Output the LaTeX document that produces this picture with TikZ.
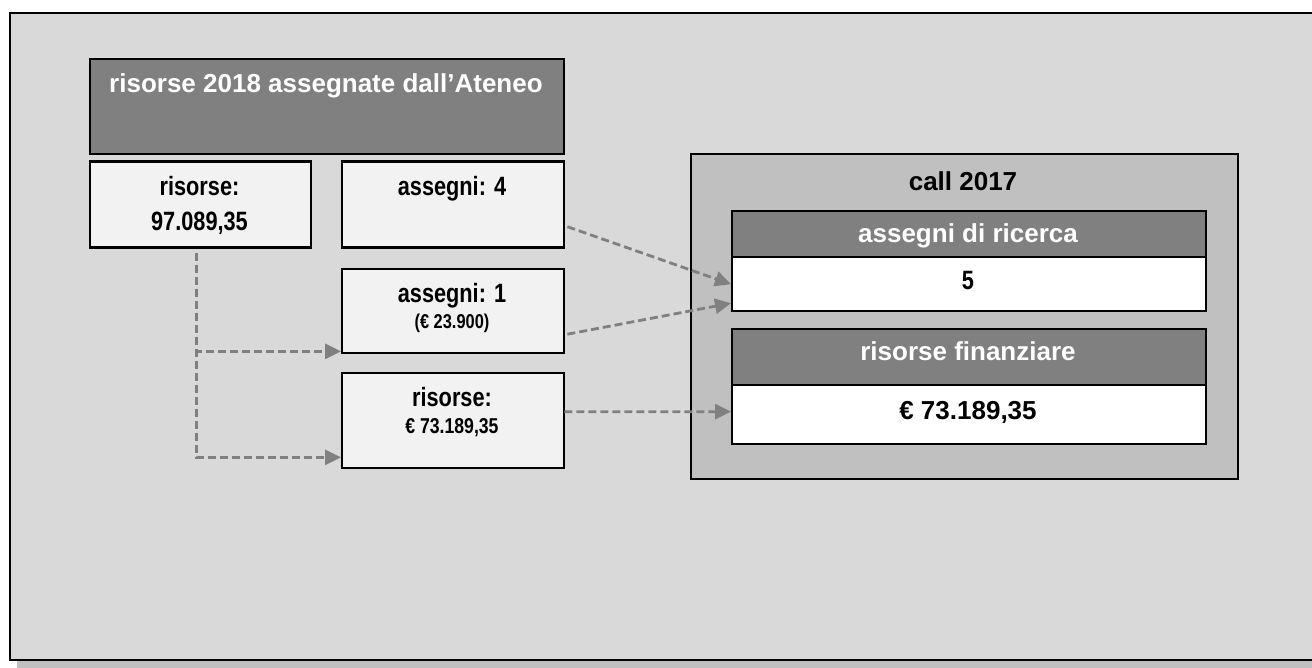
\documentclass[tikz,border=0pt]{standalone}
\usepackage{fontspec}
\setmainfont{Liberation Sans}
\newfontfamily\narrowfont[FakeStretch=0.82]{Liberation Sans}
\usetikzlibrary{arrows.meta}
\definecolor{bgc}{HTML}{D9D9D9}
\definecolor{darkc}{HTML}{808080}
\definecolor{lightc}{HTML}{F2F2F2}
\definecolor{midc}{HTML}{C0C0C0}
\tikzset{
  rbox/.style={draw=black, line width=2.4pt, inner sep=0pt, anchor=north west},
  lbox/.style={rbox, fill=lightc},
  dbox/.style={rbox, fill=darkc},
  wbox/.style={rbox, fill=white},
  ntxt/.style={anchor=base, inner sep=0pt, font=\narrowfont\bfseries\fontsize{26.5}{30}\selectfont},
  ntxts/.style={anchor=base, inner sep=0pt, font=\narrowfont\bfseries\fontsize{20}{24}\selectfont},
  htxt/.style={anchor=base, inner sep=0pt, text=white, font=\bfseries\fontsize{26}{30}\selectfont},
  btxt/.style={anchor=base, inner sep=0pt, text=black, font=\bfseries\fontsize{26}{30}\selectfont},
  conn/.style={draw=darkc, line width=2.8pt, dash pattern=on 8pt off 4pt},
  connarrow/.style={conn, -{Triangle[length=16pt,width=15pt]}},
}
\begin{document}
\begin{tikzpicture}[x=1pt,y=-1pt]
\useasboundingbox (0,0) rectangle (1312,668);
% outer frame with shadow
\fill[midc] (17,20) rectangle (1330,668);
\draw[fill=bgc, line width=2.4pt] (10,13) rectangle (1325,660);
% left block
\node[dbox, minimum width=474pt, minimum height=95pt] (title) at (89,58) {};
\node[htxt] (titletxt) at (326,93) {risorse 2018 assegnate dall’Ateneo};
\node[lbox, minimum width=221pt, minimum height=86pt] (b1) at (89,160.5) {};
\node[ntxt] (b1a) at (199.5,196) {risorse:};
\node[ntxt] (b1b) at (199.5,231) {97.089,35};
\node[lbox, minimum width=222pt, minimum height=86pt] (b2) at (341,160.5) {};
\node[ntxt] (b2a) at (452,196) {assegni: 4};
\node[lbox, minimum width=222pt, minimum height=84pt] (b3) at (341,268) {};
\node[ntxt] (b3a) at (452,303) {assegni: 1};
\node[ntxts] (b3b) at (452,328) {(€ 23.900)};
\node[lbox, minimum width=222pt, minimum height=95pt] (b4) at (341,372) {};
\node[ntxt] (b4a) at (452,406.5) {risorse:};
\node[ntxts, font=\narrowfont\bfseries\fontsize{21.5}{24}\selectfont] (b4b) at (452,433) {€ 73.189,35};
% call 2017 block
\node[rbox, fill=midc, minimum width=547pt, minimum height=325pt] (call) at (690,153) {};
\node[btxt] (calltxt) at (963,190.5) {call 2017};
\node[dbox, minimum width=474pt, minimum height=46pt] (h1) at (731,210) {};
\node[htxt] (h1t) at (968,243) {assegni di ricerca};
\node[wbox, minimum width=474pt, minimum height=54pt] (v1) at (731,256) {};
\node[ntxt] (v1t) at (968,290) {5};
\node[dbox, minimum width=474pt, minimum height=56pt] (h2) at (731,328) {};
\node[htxt] (h2t) at (968,360.5) {risorse finanziare};
\node[wbox, minimum width=474pt, minimum height=58.5pt] (v2) at (731,384) {};
\node[btxt] (v2t) at (968,419.5) {€ 73.189,35};
% connectors
\coordinate (vstart) at ([xshift=-4.5pt,yshift=-4pt]b1.south);
\draw[connarrow] (vstart) |- ([yshift=3pt]b3.south west);
\draw[connarrow] (vstart) |- ([yshift=12pt]b4.south west);
\draw[connarrow] ([xshift=2pt,yshift=-22pt]b2.east) -- (v1.west);
\draw[connarrow] ([xshift=2pt,yshift=-23pt]b3.east) -- ([yshift=-19pt]v1.west);
\draw[connarrow] ([xshift=-1pt,yshift=9pt]b4.east) -- ([yshift=2.8pt]v2.west);
\end{tikzpicture}
\end{document}
